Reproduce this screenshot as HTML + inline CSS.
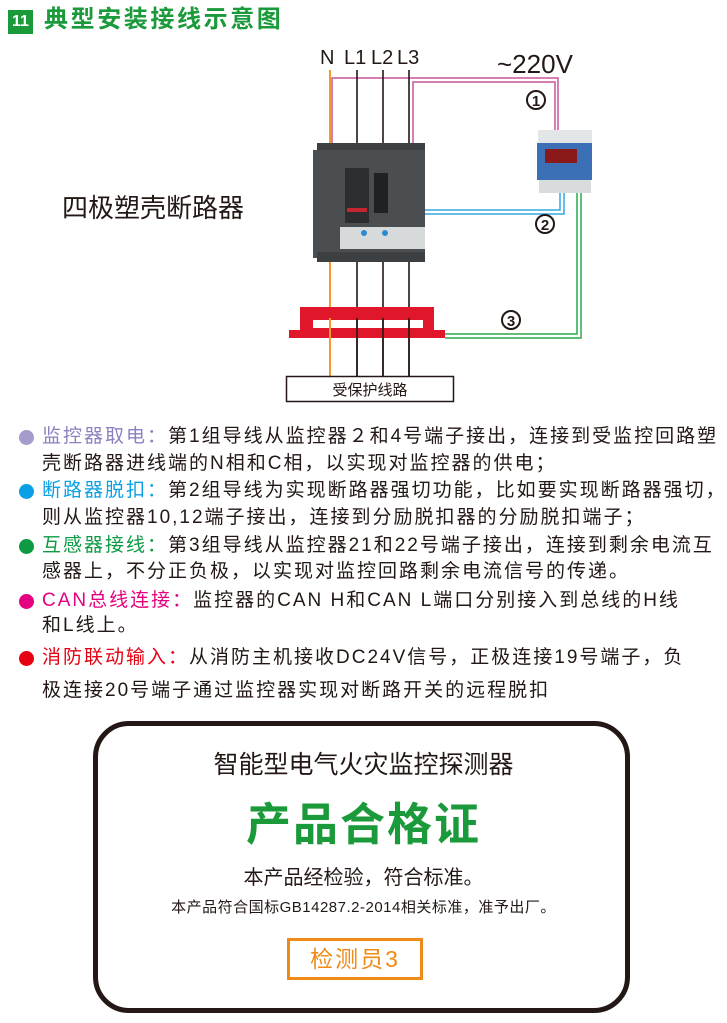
<!DOCTYPE html>
<html><head><meta charset="utf-8"><style>
*{margin:0;padding:0}
body{width:727px;height:1023px;background:#fff;position:relative;overflow:hidden;font-family:"Liberation Sans","Noto Sans CJK SC",sans-serif;color:#231815}
.a{position:absolute;white-space:nowrap}
.ln{position:absolute;left:42px;font-size:19px;line-height:22px;white-space:nowrap;letter-spacing:2px}
.dot{position:absolute;left:19px;width:15px;height:15px;border-radius:50%}
</style></head><body>
<div class="a" style="left:8px;top:10px;width:23px;height:22px;background:#1a9a3a;color:#fff;font-weight:bold;font-size:16px;line-height:22px;text-align:center;border:1px solid #1a9a3a">11</div>
<div class="a" style="left:44px;top:5px;font-size:24px;line-height:30px;font-weight:bold;color:#1a9a3a;letter-spacing:2.6px">典型安装接线示意图</div>

<svg class="a" style="left:0;top:0" width="727" height="410">
<text x="320" y="64" font-size="20" font-family="Liberation Sans" fill="#231815">N</text>
<text x="344" y="64" font-size="20" font-family="Liberation Sans" fill="#231815">L1</text>
<text x="371" y="64" font-size="20" font-family="Liberation Sans" fill="#231815">L2</text>
<text x="397" y="64" font-size="20" font-family="Liberation Sans" fill="#231815">L3</text>
<text x="497" y="73" font-size="26" font-family="Liberation Sans" fill="#231815">~220V</text>
<text x="62" y="217" font-size="26" font-family="Liberation Sans,Noto Sans CJK SC,sans-serif" fill="#231815">四极塑壳断路器</text>
<polyline points="332,145 332,78 558,78 558,130" fill="none" stroke="#c8559a" stroke-width="1.5"/>
<polyline points="413,145 413,82 555,82 555,130" fill="none" stroke="#c8559a" stroke-width="1.5"/>
<line x1="330" y1="70" x2="330" y2="145" stroke="#f39a2b" stroke-width="2"/>
<line x1="330" y1="258" x2="330" y2="376" stroke="#f39a2b" stroke-width="2"/>
<g stroke="#231815" stroke-width="1.6">
<line x1="357" y1="70" x2="357" y2="376"/><line x1="383" y1="70" x2="383" y2="376"/><line x1="409" y1="70" x2="409" y2="376"/>
</g>
<rect x="317" y="143" width="108" height="10" fill="#3d4043"/>
<rect x="313" y="150" width="112" height="108" fill="#4b4e51"/>
<rect x="317" y="252" width="108" height="10" fill="#3d4043"/>
<rect x="345" y="168" width="24" height="55" fill="#2b2d30"/>
<rect x="347" y="208" width="20" height="4" fill="#c3262e"/>
<rect x="374" y="173" width="14" height="40" fill="#1f2124"/>
<rect x="340" y="227" width="85" height="22" fill="#d7dadb"/>
<circle cx="364" cy="233" r="3" fill="#2a8ad2"/><circle cx="385" cy="233" r="3" fill="#2a8ad2"/>
<polyline points="425,210 560,210 560,193" fill="none" stroke="#33a8e0" stroke-width="1.5"/>
<polyline points="425,214 564,214 564,193" fill="none" stroke="#33a8e0" stroke-width="1.5"/>
<rect x="538" y="130" width="54" height="14" fill="#e3e6e6"/>
<rect x="537" y="143" width="55" height="37" fill="#3b6fb6"/>
<rect x="545" y="149" width="32" height="14" fill="#8a1a1a"/>
<rect x="539" y="180" width="52" height="13" fill="#d8dcdc"/>
<polyline points="577,193 577,334 445,334" fill="none" stroke="#2aa84a" stroke-width="1.5"/>
<polyline points="581,193 581,338 445,338" fill="none" stroke="#2aa84a" stroke-width="1.5"/>
<path d="M300,307 H434 V330 H445 V338 H289 V330 H300 Z M313,320 V328 H423 V320 Z" fill="#e0162b" fill-rule="evenodd"/>
<line x1="330" y1="318" x2="330" y2="376" stroke="#f39a2b" stroke-width="2"/>
<g stroke="#231815" stroke-width="1.6"><line x1="357" y1="318" x2="357" y2="376"/><line x1="383" y1="318" x2="383" y2="376"/><line x1="409" y1="318" x2="409" y2="376"/></g>
<g font-family="Liberation Sans" font-weight="bold" font-size="15" text-anchor="middle" fill="#231815">
<circle cx="536" cy="100" r="9" fill="none" stroke="#231815" stroke-width="2"/><text x="536" y="106">1</text>
<circle cx="545" cy="224" r="9" fill="none" stroke="#231815" stroke-width="2"/><text x="545" y="230">2</text>
<circle cx="511" cy="320" r="9" fill="none" stroke="#231815" stroke-width="2"/><text x="511" y="326">3</text>
</g>
<rect x="286.5" y="376.5" width="167" height="25" fill="#fff" stroke="#231815" stroke-width="1.5"/>
<text x="370" y="395" font-size="15" text-anchor="middle" font-family="Liberation Sans,Noto Sans CJK SC,sans-serif" fill="#231815">受保护线路</text>
</svg>

<div class="dot" style="top:430px;background:#a59ccc"></div>
<div class="ln" style="top:426px"><span style="color:#8b80c0">监控器取电：</span>第1组导线从监控器２和4号端子接出，连接到受监控回路塑</div>
<div class="ln" style="top:453px">壳断路器进线端的N相和C相，以实现对监控器的供电；</div>
<div class="dot" style="top:484px;background:#0aa0e6"></div>
<div class="ln" style="top:480px"><span style="color:#0aa0e6">断路器脱扣：</span>第2组导线为实现断路器强切功能，比如要实现断路器强切，</div>
<div class="ln" style="top:507px">则从监控器10,12端子接出，连接到分励脱扣器的分励脱扣端子；</div>
<div class="dot" style="top:539px;background:#0d9a43"></div>
<div class="ln" style="top:535px"><span style="color:#0d9a43">互感器接线：</span>第3组导线从监控器21和22号端子接出，连接到剩余电流互</div>
<div class="ln" style="top:561px">感器上，不分正负极，以实现对监控回路剩余电流信号的传递。</div>
<div class="dot" style="top:594px;background:#e4007f"></div>
<div class="ln" style="top:590px"><span style="color:#e4007f">CAN总线连接：</span>监控器的CAN H和CAN L端口分别接入到总线的H线</div>
<div class="ln" style="top:615px">和L线上。</div>
<div class="dot" style="top:651px;background:#e60012"></div>
<div class="ln" style="top:647px"><span style="color:#e60012">消防联动输入：</span>从消防主机接收DC24V信号，正极连接19号端子，负</div>
<div class="ln" style="top:680px">极连接20号端子通过监控器实现对断路开关的远程脱扣</div>

<div class="a" style="left:93px;top:721px;width:527px;height:282px;border:5px solid #231815;border-radius:36px"></div>
<div class="a" style="left:0;width:727px;text-align:center;top:749px;font-size:25px;line-height:32px">智能型电气火灾监控探测器</div>
<div class="a" style="left:0;width:727px;text-align:center;top:798px;font-size:45px;line-height:54px;font-weight:bold;color:#1a9a3a;letter-spacing:2px">产品合格证</div>
<div class="a" style="left:0;width:727px;text-align:center;top:865px;font-size:20px;line-height:26px">本产品经检验，符合标准。</div>
<div class="a" style="left:0;width:727px;text-align:center;top:898px;font-size:15px;line-height:20px;letter-spacing:0.5px">本产品符合国标GB14287.2-2014相关标准，准予出厂。</div>
<div class="a" style="left:287px;top:938px;width:130px;height:36px;border:3px solid #f08a16;color:#f08a16;font-size:23px;line-height:36px;text-align:center;letter-spacing:2px">检测员3</div>
</body></html>
